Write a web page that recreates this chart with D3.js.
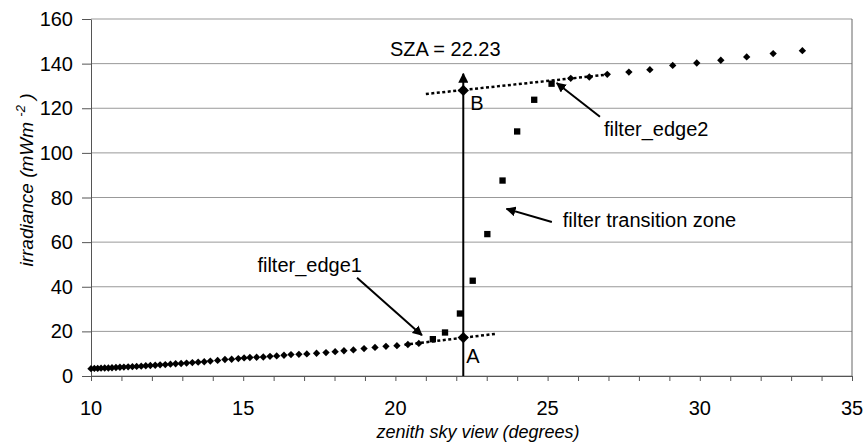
<!DOCTYPE html>
<html>
<head>
<meta charset="utf-8">
<script src="https://cdn.jsdelivr.net/npm/d3@7"></script>
<style>
  body { margin: 0; background: #fff; }
  svg { font-family: 'Liberation Sans', Arial, sans-serif; }
  .axis path, .axis line { stroke: #555; }
  .grid line { stroke: #999; }
  .label { font-size: 20px; fill: #000; }
</style>
</head>
<body>
<svg id="chart" width="868" height="446"></svg>
<script>
// filter_edge1 diamonds (below the edge)
const edge1X = [10.00, 10.11, 10.22, 10.33, 10.45, 10.57, 10.69, 10.82, 10.95, 11.08,
  11.22, 11.36, 11.50, 11.65, 11.80, 11.95, 12.11, 12.27, 12.44, 12.61,
  12.78, 12.96, 13.14, 13.33, 13.52, 13.72, 13.92, 14.16,
  14.40, 14.62, 14.84, 15.03, 15.22, 15.44, 15.66, 15.88, 16.10, 16.34,
  16.57, 16.83, 17.09, 17.41, 17.72, 18.02, 18.31, 18.62, 18.97, 19.33,
  19.69, 20.05, 20.41, 20.77]
const edge1Y = [3.3, 3.4, 3.4, 3.5, 3.6, 3.6, 3.7, 3.8, 3.9, 4.0,
  4.1, 4.2, 4.3, 4.4, 4.6, 4.7, 4.8, 5.0, 5.1, 5.3,
  5.5, 5.6, 5.8, 6.0, 6.2, 6.4, 6.7, 7.0,
  7.4, 7.5, 7.8, 8.1, 8.3, 8.4, 8.5, 8.8, 9.0, 9.3,
  9.6, 9.7, 9.9, 10.2, 10.5, 10.9, 11.3, 11.7, 12.3, 12.8,
  13.3, 13.6, 14.1, 14.6]

// transition zone squares
const transX = [21.23, 21.63, 22.12, 22.54, 23.02, 23.52, 24.00, 24.56, 25.13]
const transY = [16.5, 19.5, 28.0, 42.7, 63.6, 87.6, 109.6, 123.8, 131.0]

// filter_edge2 diamonds (above the edge)
const edge2X = [25.76, 26.37, 26.96, 27.67, 28.36, 29.11, 29.90, 30.69, 31.54, 32.41, 33.37]
const edge2Y = [133.4, 134.0, 135.2, 136.2, 137.3, 139.2, 140.3, 141.5, 143.0, 144.5, 145.8]

// fitted edge lines and the two marked points
const edge1Line = [[20.3, 14.0], [23.3, 18.9]]
const edge2Line = [[21.0, 126.4], [26.9, 135.0]]
const sza = 22.23
const pointA = [sza, 17.2]
const pointB = [sza, 128.0]
const arrowTop = 135.5

const xTickValues = [10, 15, 20, 25, 30, 35]
const xMinorTicks = d3.range(10, 36)
const yTickValues = [0, 20, 40, 60, 80, 100, 120, 140, 160]

const svg = d3.select('#chart')
const width = +svg.attr('width')
const height = +svg.attr('height')
const margin = { top: 19, right: 16, bottom: 70, left: 91 }
const innerWidth = width - margin.left - margin.right
const innerHeight = height - margin.top - margin.bottom

const g = svg.append('g')
  .attr('transform', `translate(${ margin.left }, ${ margin.top })`)

const xScale = d3.scaleLinear().domain([10, 35]).range([0, innerWidth])
const yScale = d3.scaleLinear().domain([0, 160]).range([innerHeight, 0])

svg.append('defs').append('marker')
  .attr('id', 'head')
  .attr('viewBox', '0 0 10 10')
  .attr('refX', 9)
  .attr('refY', 5)
  .attr('markerWidth', 10)
  .attr('markerHeight', 10)
  .attr('markerUnits', 'userSpaceOnUse')
  .attr('orient', 'auto')
  .append('path')
  .attr('d', 'M0,0L10,5L0,10Z')
  .attr('fill', '#000')

// gridlines
g.append('g')
  .attr('class', 'grid')
  .selectAll('line')
  .data(yTickValues)
  .enter()
  .append('line')
  .attr('x1', 0)
  .attr('x2', innerWidth)
  .attr('y1', d => yScale(d))
  .attr('y2', d => yScale(d))

g.append('line')
  .attr('x1', innerWidth).attr('x2', innerWidth)
  .attr('y1', 0).attr('y2', innerHeight)
  .attr('stroke', '#666')

// axes: minor ticks every degree, labels every 5
g.append('g')
  .attr('class', 'axis')
  .attr('transform', `translate(0, ${ innerHeight })`)
  .call(d3.axisBottom(xScale)
    .tickValues(xMinorTicks)
    .tickSizeInner(5)
    .tickSizeOuter(0)
    .tickFormat(''))
  .selectAll('text').remove()

g.append('g')
  .attr('class', 'axis')
  .call(d3.axisLeft(yScale)
    .tickValues(yTickValues)
    .tickSizeInner(9)
    .tickSizeOuter(0))
  .selectAll('text').remove()

// tick labels
g.append('g')
  .selectAll('text')
  .data(xTickValues)
  .enter()
  .append('text')
  .attr('class', 'label')
  .attr('x', d => xScale(d))
  .attr('y', innerHeight + 39)
  .attr('text-anchor', 'middle')
  .text(d => d)

g.append('g')
  .selectAll('text')
  .data(yTickValues)
  .enter()
  .append('text')
  .attr('class', 'label')
  .attr('x', -18)
  .attr('y', d => yScale(d) + 7)
  .attr('text-anchor', 'end')
  .text(d => d)

// axis titles
svg.append('text')
  .attr('class', 'label')
  .attr('x', 478)
  .attr('y', 438)
  .attr('text-anchor', 'middle')
  .style('font-style', 'italic')
  .style('font-size', '18px')
  .text('zenith sky view (degrees)')

const yTitle = svg.append('text')
  .attr('class', 'label')
  .attr('transform', 'translate(33, 180) rotate(-90)')
  .attr('text-anchor', 'middle')
  .style('font-style', 'italic')
  .style('font-size', '19px')
yTitle.append('tspan').text('irradiance (mWm ')
yTitle.append('tspan').attr('dy', -8).style('font-size', '13px').text('-2')
yTitle.append('tspan').attr('dy', 8).text(' )')

// fitted dotted lines
const line = d3.line().x(d => xScale(d[0])).y(d => yScale(d[1]))
;[edge1Line, edge2Line].forEach(l => {
  g.append('path')
    .attr('d', line(l))
    .attr('fill', 'none')
    .attr('stroke', '#000')
    .attr('stroke-width', 2.5)
    .attr('stroke-dasharray', '3,2.5')
})

// SZA vertical arrow
g.append('line')
  .attr('x1', xScale(sza)).attr('x2', xScale(sza))
  .attr('y1', yScale(0)).attr('y2', yScale(arrowTop))
  .attr('stroke', '#000')
  .attr('stroke-width', 2)
  .attr('marker-end', 'url(#head)')

// markers
const diamond = d3.symbol().type(d3.symbolSquare).size(27)
const square = d3.symbol().type(d3.symbolSquare).size(40)
const bigDiamond = d3.symbol().type(d3.symbolSquare).size(64)

g.append('g').selectAll('path')
  .data(edge1X.map((x, i) => [x, edge1Y[i]]).concat(edge2X.map((x, i) => [x, edge2Y[i]])))
  .enter()
  .append('path')
  .attr('d', diamond)
  .attr('transform', d => `translate(${ xScale(d[0]) }, ${ yScale(d[1]) }) rotate(45)`)
  .attr('fill', '#000')

g.append('g').selectAll('path')
  .data(transX.map((x, i) => [x, transY[i]]))
  .enter()
  .append('path')
  .attr('d', square)
  .attr('transform', d => `translate(${ xScale(d[0]) }, ${ yScale(d[1]) })`)
  .attr('fill', '#000')

g.append('g').selectAll('path')
  .data([pointA, pointB])
  .enter()
  .append('path')
  .attr('d', bigDiamond)
  .attr('transform', d => `translate(${ xScale(d[0]) }, ${ yScale(d[1]) }) rotate(45)`)
  .attr('fill', '#000')

// annotations
const annotations = [
  { text: 'filter_edge1', tx: 18.9, ty: 46.6, anchor: 'end', from: [18.74, 44.0], to: [20.87, 18.3] },
  { text: 'filter_edge2', tx: 26.85, ty: 107.7, anchor: 'start', from: [26.72, 116.2], to: [25.3, 131.3] },
  { text: 'filter transition zone', tx: 25.5, ty: 67.0, anchor: 'start', from: [25.14, 69.0], to: [23.65, 74.9] }
]
annotations.forEach(a => {
  g.append('text')
    .attr('class', 'label')
    .attr('x', xScale(a.tx))
    .attr('y', yScale(a.ty))
    .attr('text-anchor', a.anchor)
    .text(a.text)
  g.append('line')
    .attr('x1', xScale(a.from[0])).attr('y1', yScale(a.from[1]))
    .attr('x2', xScale(a.to[0])).attr('y2', yScale(a.to[1]))
    .attr('stroke', '#000')
    .attr('stroke-width', 2)
    .attr('marker-end', 'url(#head)')
})

g.append('text')
  .attr('class', 'label')
  .attr('x', xScale(sza) + 3)
  .attr('y', yScale(pointA[1]) + 25)
  .text('A')
g.append('text')
  .attr('class', 'label')
  .attr('x', xScale(sza) + 7)
  .attr('y', yScale(pointB[1]) + 20)
  .text('B')
g.append('text')
  .attr('class', 'label')
  .attr('x', xScale(sza) - 18)
  .attr('y', yScale(arrowTop) - 18)
  .attr('text-anchor', 'middle')
  .text('SZA = 22.23')
</script>
</body>
</html>
